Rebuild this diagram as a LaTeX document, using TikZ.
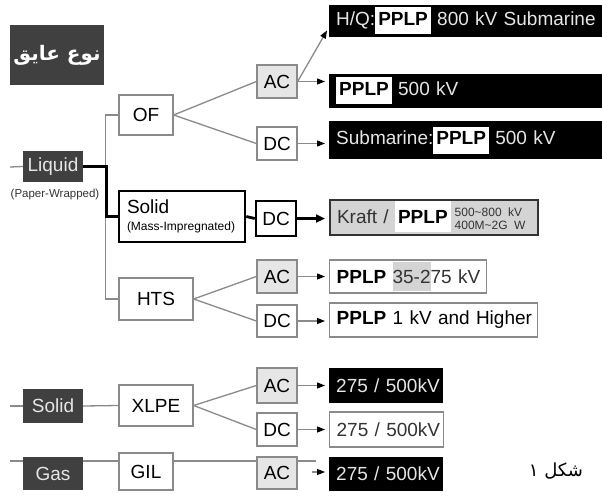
\documentclass[tikz,border=0pt]{standalone}
\usepackage{fontspec}
\usepackage{graphicx}
\setmainfont{Liberation Sans}
\newfontfamily\arabicfont[Script=Arabic]{DejaVu Sans}
\usetikzlibrary{arrows.meta,calc}
\TeXXeTstate=1
\definecolor{dk}{HTML}{404040}
\definecolor{ln}{HTML}{8A8A8A}
\definecolor{acf}{HTML}{E6E6E6}
\definecolor{txw}{HTML}{E6E6E6}
\definecolor{kr}{HTML}{D4D4D4}
\definecolor{krb}{HTML}{333333}
\newcommand\wpp[1]{{\setlength\fboxsep{3pt}\colorbox{white}{\textcolor{black}{\bfseries\strut #1}}}}
\newcommand\wppk[1]{{\setlength\fboxsep{0pt}\colorbox{white}{\hspace{3pt}\rule[-9pt]{0pt}{31pt}\textcolor{black}{\bfseries #1}\hspace{3pt}}}}
\begin{document}
\begin{tikzpicture}[x=1pt,y=-1pt,
 big/.style={font=\fontsize{19}{21}\selectfont},
 gbox/.style={draw=ln, line width=1.3pt, fill=white, inner sep=0pt, big},
 acbox/.style={gbox, fill=acf},
 dbox/.style={fill=dk, text=txw, inner sep=0pt, big},
 bbox/.style={fill=black, text=txw, inner xsep=7pt, inner ysep=0pt, anchor=west, align=left, big},
 wbox/.style={draw=ln, line width=1.3pt, fill=white, inner xsep=7pt, inner ysep=0pt, anchor=west, align=left, big},
 conn/.style={draw=ln, line width=1.3pt},
 thk/.style={draw=black, line width=2.8pt},
 arr/.style={conn, shorten >=4pt, -{Triangle[length=8pt,width=6pt,color=black]}},
 tarr/.style={thk, shorten >=4pt, -{Triangle[length=9pt,width=8pt]}}
]
\useasboundingbox (0,0) rectangle (602,495);
\fill[white] (0,0) rectangle (602,495);

% gas row line (behind boxes)
\coordinate (gs) at (10,461);
\coordinate (ge) at (316,461);
\draw[conn] (gs) -- (ge);

% title
\node[dbox, minimum width=94pt, minimum height=60pt, text=white] (title) at (57,55)
  {\arabicfont\bfseries\fontsize{20}{22}\selectfont\beginR نوع عایق\endR};

% left column
\node[dbox, minimum width=60pt, minimum height=31pt] (liq) at (53,166.5) {Liquid};
\node[font=\fontsize{11.5}{12}\selectfont, text=krb, inner sep=0pt] (pw) at (55,195) {(Paper-Wrapped)};
\node[dbox, minimum width=60pt, minimum height=34pt] (sold) at (53,406) {Solid};
\node[dbox, minimum width=60pt, minimum height=33pt] (gas) at (53,473.5) {Gas};

% second column
\node[gbox, minimum width=54pt, minimum height=40pt] (of) at (146,115) {OF};
\node[draw=black, line width=2.6pt, fill=white, minimum width=126pt, minimum height=51pt,
      text width=110pt, inner xsep=8pt, inner ysep=0pt, align=left,
      font=\fontsize{12}{17}\selectfont] (smi) at (182,216.5)
  {{\fontsize{19}{17}\selectfont Solid}\\\mbox{(Mass-Impregnated)}};
\node[gbox, minimum width=74pt, minimum height=42pt] (hts) at (156,299) {HTS};
\node[gbox, minimum width=74pt, minimum height=41pt] (xlpe) at (156,405.5) {XLPE};
\node[gbox, minimum width=54pt, minimum height=37pt] (gil) at (146,471.5) {GIL};

% AC / DC column
\node[acbox, minimum width=40pt, minimum height=33pt] (ac1) at (277,81.5) {AC};
\node[gbox, minimum width=40pt, minimum height=33pt] (dc1) at (277,143.5) {DC};
\node[gbox, draw=black, line width=2.6pt, minimum width=40pt, minimum height=35pt] (dc2) at (276,218.5) {DC};
\node[acbox, minimum width=40pt, minimum height=33pt] (ac2) at (277,276.5) {AC};
\node[gbox, minimum width=40pt, minimum height=32pt] (dc3) at (277,321) {DC};
\node[acbox, minimum width=40pt, minimum height=35pt] (ac3) at (277,385.5) {AC};
\node[gbox, minimum width=40pt, minimum height=33pt] (dc4) at (277,429.5) {DC};
\node[acbox, minimum width=40pt, minimum height=32pt] (ac4) at (277,473) {AC};

% result boxes
\node[bbox, text width=259pt, minimum height=32pt] (r1) at (329,21) {\mbox{H/Q:\wpp{PPLP} 800 kV Submarine}};
\node[bbox, text width=259pt, minimum height=34pt] (r2) at (329,91) {\wpp{PPLP} 500 kV};
\node[bbox, text width=259pt, minimum height=38pt] (r3) at (329,140) {Submarine:\wpp{PPLP} 500 kV};
\node[wbox, draw=krb, line width=2pt, fill=kr, text=krb, text width=194pt, minimum height=35pt] (r4) at (329,217.5)
  {\mbox{Kraft / \wppk{PPLP}\hspace{4pt}{\fontsize{12}{13.5}\selectfont\begin{tabular}[c]{@{}l@{}}500\textasciitilde800 kV\\400M\textasciitilde2G W\end{tabular}}}};
\node[wbox, text width=143pt, minimum height=33pt] (r5) at (329,276.5)
  {\mbox{\textbf{PPLP} {\setlength\fboxsep{0pt}\colorbox{kr}{\rule[-8pt]{0pt}{29pt}\textcolor{krb}{35-2}}}\textcolor{krb}{75 kV}}};
\node[wbox, text width=194pt, minimum height=34pt] (r6) at (329,320) {\mbox{\textbf{PPLP} 1 kV and Higher}};
\node[bbox, text width=100pt, minimum height=35pt] (r7) at (329,385.5) {\mbox{275 / 500kV}};
\node[wbox, text=krb, text width=100pt, minimum height=35pt] (r8) at (329,429.5) {\mbox{275 / 500kV}};
\node[bbox, text width=100pt, minimum height=34pt] (r9) at (329,474) {\mbox{275 / 500kV}};

% caption
\node[inner sep=0pt] (cap) at (556,471) {\arabicfont\fontsize{18}{20}\selectfont\beginR شکل ۱\endR};

% connectors
\coordinate (s1) at (10,167);
\coordinate (s2) at (10,406);
\draw[conn] (s1) -- (liq.west);
\draw[conn] (of.west) -- ++(-13,0) |- (hts.west);
\draw[thk] (liq.east) -- ++(23,0) |- (smi.west);
\draw[conn] (of.east) -- (ac1.west);
\draw[conn] (of.east) -- (dc1.west);
\draw[thk] (smi.east) -- (dc2.west);
\draw[conn] (hts.east) -- (ac2.west);
\draw[conn] (hts.east) -- (dc3.west);
\draw[conn] (s2) -- (sold.west);
\draw[conn] (sold.east) -- (xlpe.west);
\draw[conn] (xlpe.east) -- (ac3.west);
\draw[conn] (xlpe.east) -- (dc4.west);

% arrows
\draw[arr] (ac1.east) -- ([yshift=-6pt]r1.west);
\draw[arr] (ac1.east) -- (ac1.east -| r2.west);
\draw[arr] (dc1.east) -- (dc1.east -| r3.west);
\draw[tarr] (dc2.east) -- (dc2.east -| r4.west);
\draw[arr] (ac2.east) -- (ac2.east -| r5.west);
\draw[arr] (dc3.east) -- (dc3.east -| r6.west);
\draw[arr] (ac3.east) -- (ac3.east -| r7.west);
\draw[arr] (dc4.east) -- (dc4.east -| r8.west);
\coordinate (ga) at (312,472);
\draw[arr] (ga) -- (ga -| r9.west);
\end{tikzpicture}
\end{document}
